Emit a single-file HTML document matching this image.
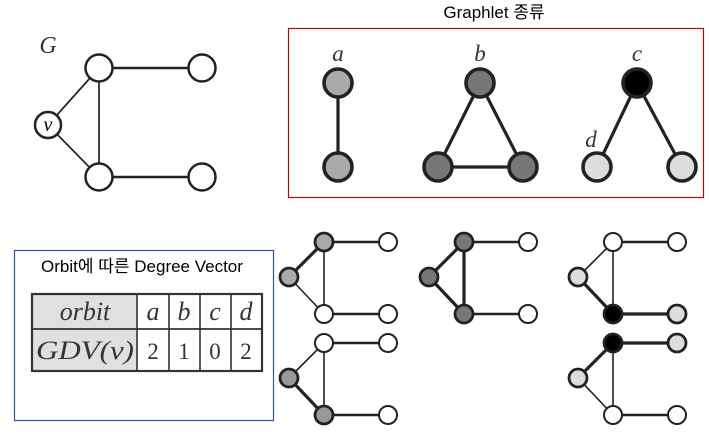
<!DOCTYPE html>
<html><head><meta charset="utf-8"><style>
html,body{margin:0;padding:0;background:#fff;}
svg{display:block;}
text{font-family:"Liberation Sans","Noto Sans CJK KR",sans-serif;}
.it{font-family:"Liberation Serif",serif;font-style:italic;}
.sr{font-family:"Liberation Serif",serif;}
</style></head><body>
<svg id="s" width="709" height="438" viewBox="0 0 709 438" xmlns="http://www.w3.org/2000/svg">
<text x="494" y="18" font-size="17" text-anchor="middle">Graphlet 종류</text>
<rect x="288.5" y="28.5" width="415" height="169" fill="none" stroke="#a01010" stroke-width="1.2"/>
<text x="48" y="53" font-size="24" class="it" text-anchor="middle" fill="#333">G</text>
<text x="338" y="61" font-size="23" class="it" text-anchor="middle" fill="#333">a</text>
<text x="480" y="61" font-size="23" class="it" text-anchor="middle" fill="#333">b</text>
<text x="637" y="61" font-size="23" class="it" text-anchor="middle" fill="#333">c</text>
<text x="591" y="147" font-size="23" class="it" text-anchor="middle" fill="#333">d</text>
<rect x="14.5" y="250.5" width="259" height="170" fill="none" stroke="#2f5597" stroke-width="1.2"/>
<text x="142" y="272" font-size="17" text-anchor="middle">Orbit에 따른 Degree Vector</text>
<g>
<rect x="32" y="294" width="105" height="77" fill="#e0e0e0"/>
<rect x="32" y="294" width="230" height="77" fill="none" stroke="#333" stroke-width="2.2"/>
<line x1="32" y1="329" x2="262" y2="329" stroke="#333" stroke-width="1.8"/>
<line x1="137" y1="294" x2="137" y2="371" stroke="#333" stroke-width="1.6"/>
<line x1="169" y1="294" x2="169" y2="371" stroke="#333" stroke-width="1.6"/>
<line x1="200" y1="294" x2="200" y2="371" stroke="#333" stroke-width="1.6"/>
<line x1="231" y1="294" x2="231" y2="371" stroke="#333" stroke-width="1.6"/>
<text x="85" y="320" font-size="26" class="it" text-anchor="middle" fill="#333">orbit</text>
<text x="153" y="320" font-size="26" class="it" text-anchor="middle" fill="#333">a</text>
<text x="184" y="320" font-size="26" class="it" text-anchor="middle" fill="#333">b</text>
<text x="215" y="320" font-size="26" class="it" text-anchor="middle" fill="#333">c</text>
<text x="246" y="320" font-size="26" class="it" text-anchor="middle" fill="#333">d</text>
<text x="85" y="359" font-size="26" class="it" text-anchor="middle" fill="#333" textLength="98" lengthAdjust="spacingAndGlyphs">GDV(v)</text>
<text x="153" y="359" font-size="23" class="sr" text-anchor="middle" fill="#333">2</text>
<text x="184" y="359" font-size="23" class="sr" text-anchor="middle" fill="#333">1</text>
<text x="215" y="359" font-size="23" class="sr" text-anchor="middle" fill="#333">0</text>
<text x="246" y="359" font-size="23" class="sr" text-anchor="middle" fill="#333">2</text>
</g>
</svg>
<script>
const NS="http://www.w3.org/2000/svg";
const svg=document.getElementById('s');
const smallOrigins=[[0,0],[140,0],[289,0],[0,101],[289,101]];
const smallFills=[
 {T:'#aaa',L:'#aaa',B:'#fff',RT:'#fff',RB:'#fff'},
 {T:'#777',L:'#777',B:'#777',RT:'#fff',RB:'#fff'},
 {T:'#fff',L:'#ddd',B:'#000',RT:'#fff',RB:'#ddd'},
 {T:'#fff',L:'#999',B:'#999',RT:'#fff',RB:'#fff'},
 {T:'#000',L:'#ddd',B:'#fff',RT:'#ddd',RB:'#fff'}];
const smallThick=[['T-L'],['T-L','L-B','T-B'],['L-B','B-RB'],['L-B'],['T-L','T-RT']];
const baseNodes={T:[324,242],L:[289,277],B:[324,314],RT:[388,242],RB:[388,314]};
const baseEdges=['T-L','L-B','T-B','T-RT','B-RB'];
function line(a,b,w,name){const l=document.createElementNS(NS,'line');
 l.setAttribute('x1',a[0]);l.setAttribute('y1',a[1]);l.setAttribute('x2',b[0]);l.setAttribute('y2',b[1]);
 l.setAttribute('stroke','#222');l.setAttribute('stroke-width',w);
 
 
 svg.appendChild(l);}
function node(p,r,fill,w,name){const c=document.createElementNS(NS,'circle');
 c.setAttribute('cx',p[0]);c.setAttribute('cy',p[1]);c.setAttribute('r',r);
 c.setAttribute('fill',fill);c.setAttribute('stroke','#222');c.setAttribute('stroke-width',w);
 
 
 svg.appendChild(c);}
const gNodes={T:[99,68],V:[48,125],B:[99,177],RT:[202,68],RB:[202,177]};
['T-V','V-B','T-B','T-RT','B-RB'].forEach(e=>{const[a,b]=e.split('-');line(gNodes[a],gNodes[b],e.includes('R')?2.6:1.7,'g-edge');});
Object.keys(gNodes).forEach(k=>node(gNodes[k],k==='V'?13:13.5,'#fff',2.5,'g-node'));
const vt=document.createElementNS(NS,'text');vt.setAttribute('x',48);vt.setAttribute('y',131);vt.setAttribute('font-size',20);
vt.setAttribute('text-anchor','middle');vt.setAttribute('class','it');vt.textContent='v';


svg.appendChild(vt);
const gl=[
 {n:[[338,83,'#aaa'],[338,167,'#aaa']],e:[[0,1]]},
 {n:[[480,83,'#777'],[438,167,'#777'],[523,167,'#777']],e:[[0,1],[0,2],[1,2]]},
 {n:[[637,83,'#000'],[597,167,'#ddd'],[682,167,'#ddd']],e:[[0,1],[0,2]]}];
gl.forEach(g=>{g.e.forEach(([i,j])=>line(g.n[i],g.n[j],3.2,'graphlet-edge'));
 g.n.forEach(p=>node(p,14,p[2],3.6,'graphlet-node'));});
smallOrigins.forEach((o,gi)=>{
 const P={};Object.keys(baseNodes).forEach(k=>P[k]=[baseNodes[k][0]+o[0],baseNodes[k][1]+o[1]]);
 baseEdges.forEach(e=>{const[a,b]=e.split('-');const t=smallThick[gi].includes(e);
  line(P[a],P[b],t?3.2:(e.includes('R')?2.4:1.6),'orbit-edge');});
 Object.keys(P).forEach(k=>{const f=smallFills[gi][k];node(P[k],9,f,f==='#fff'?2:2.8,'orbit-node');});
});
</script>
</body></html>
